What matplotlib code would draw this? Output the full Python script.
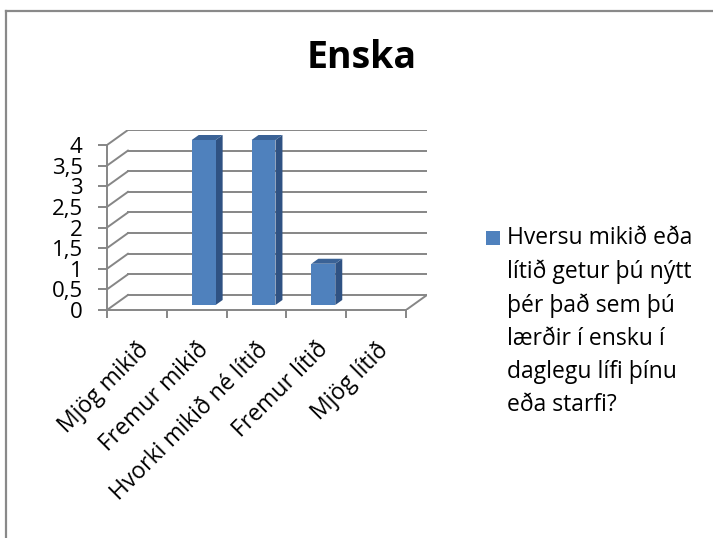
import matplotlib.pyplot as plt
from matplotlib.patches import Polygon, Rectangle
from matplotlib.lines import Line2D
import numpy as np

plt.rcParams["font.family"] = ["Open Sans", "DejaVu Sans"]

categories = ["Mjög mikið", "Fremur mikið", "Hvorki mikið né lítið", "Fremur lítið", "Mjög lítið"]
values = [0, 4, 4, 1, 0]
y_ticks = [0, 0.5, 1, 1.5, 2, 2.5, 3, 3.5, 4]
y_labels = ["0", "0,5", "1", "1,5", "2", "2,5", "3", "3,5", "4"]
title = "Enska"
series_name = "Hversu mikið eða\nlítið getur þú nýtt\nþér það sem þú\nlærðir í ensku í\ndaglegu lífi þínu\neða starfi?"

W, H = 713, 538
DX, DY = 0.35, 0.364   # depth offset (category units, value units)
GRID = "#868686"
FRONT, SIDE, TOP = "#4F81BD", "#2F5283", "#3A6296"


def proj(x, y, d):
    return (x + d * DX, y + d * DY)


fig = plt.figure(figsize=(W / 100, H / 100), dpi=100)
ax = fig.add_axes([107 / W, (H - 310) / H, 320 / W, 180 / H])
n = len(categories)
ax.set_xlim(0, n + DX)
ax.set_ylim(0, max(y_ticks) + DY)

# back wall and side wall grid
for y in y_ticks:
    ax.plot(*zip(proj(0, y, 1), proj(n, y, 1)), color=GRID, lw=1.4, zorder=1)
    ax.plot(*zip(proj(0, y, 0), proj(0, y, 1)), color=GRID, lw=1.4, zorder=1)
ax.plot(*zip(proj(n, 0, 0), proj(n, 0, 1)), color=GRID, lw=1.4, zorder=1)

# 3d bars
for i, v in enumerate(values):
    if v <= 0:
        continue
    x0, x1 = i + 0.3, i + 0.7
    d0, d1 = 1 / 3, 2 / 3
    front = [proj(x0, 0, d0), proj(x1, 0, d0), proj(x1, v, d0), proj(x0, v, d0)]
    side = [proj(x1, 0, d0), proj(x1, 0, d1), proj(x1, v, d1), proj(x1, v, d0)]
    top = [proj(x0, v, d0), proj(x1, v, d0), proj(x1, v, d1), proj(x0, v, d1)]
    ax.add_patch(Polygon(side, closed=True, facecolor=SIDE, edgecolor="none", zorder=3))
    ax.add_patch(Polygon(top, closed=True, facecolor=TOP, edgecolor="none", zorder=3))
    ax.add_patch(Polygon(front, closed=True, facecolor=FRONT, edgecolor="none", zorder=4))

for s in ["top", "right"]:
    ax.spines[s].set_visible(False)
ax.spines["left"].set_bounds(0, max(y_ticks))
ax.spines["bottom"].set_bounds(0, n)
for s in ["left", "bottom"]:
    ax.spines[s].set_color(GRID)
    ax.spines[s].set_linewidth(1.4)
    ax.spines[s].set_zorder(5)

ax.set_yticks(y_ticks)
ax.set_yticklabels(y_labels, fontsize=16)
ax.tick_params(axis="y", length=6.5, width=1.4, color=GRID, pad=11)

ax.set_xticks(np.arange(n) + 0.5)
ax.set_xticklabels(categories, rotation=45, ha="right", rotation_mode="anchor", fontsize=16.5)
ax.set_xticks(np.arange(n + 1), minor=True)
ax.tick_params(axis="x", which="major", length=0, pad=20)
ax.tick_params(axis="x", which="minor", length=6, width=1.4, color=GRID)

fig.text(362 / W, 1 - 58 / H, title, fontsize=27, fontweight="bold", ha="center", va="center")

# legend
fig.add_artist(Rectangle((486 / W, 1 - 245 / H), 14 / W, 14 / H, facecolor=FRONT,
                         edgecolor="none", transform=fig.transFigure))
fig.text(507 / W, 1 - 226 / H, series_name, fontsize=16.5, ha="left", va="top", linespacing=1.5)

# chart border
fig.add_artist(Line2D([6 / W, 6 / W], [0, 1 - 11 / H], color="#898989", lw=1.6, transform=fig.transFigure))
fig.add_artist(Line2D([6 / W, 1], [1 - 11 / H, 1 - 11 / H], color="#898989", lw=1.6, transform=fig.transFigure))

fig.savefig("out.png", dpi=100)
